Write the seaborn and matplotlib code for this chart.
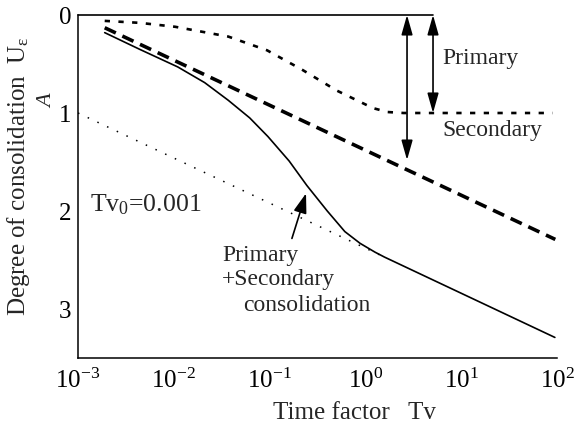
import matplotlib
matplotlib.use("Agg")
import matplotlib.pyplot as plt
import seaborn as sns
import numpy as np
import pandas as pd

# ---- data ----
tv_primary = [0.0019, 0.0044, 0.0103, 0.037, 0.094, 0.22, 0.50, 1.2, 1.7, 2.5, 90]
u_primary = [0.06, 0.08, 0.12, 0.22, 0.36, 0.56, 0.77, 0.95, 0.99, 1.0, 1.0]

tv_secondary = [0.0019, 96]
u_secondary = [0.13, 2.29]

tv_total = [0.0019, 0.0044, 0.011, 0.021, 0.037, 0.062, 0.096, 0.16, 0.245, 0.40, 0.61, 0.88, 1.26, 1.58, 95]
u_total = [0.18, 0.35, 0.53, 0.69, 0.87, 1.05, 1.24, 1.49, 1.74, 2.00, 2.21, 2.33, 2.42, 2.47, 3.29]

tv_extension = [0.001, 1.58]
u_extension = [1.0, 2.47]

x_ticks = [1e-3, 1e-2, 1e-1, 1e0, 1e1, 1e2]
y_ticks = [0, 1, 2, 3]
y_minor = [0.5, 1.5, 2.5]

arrow_total_tv, arrow_total_u = 2.72, 1.48
arrow_primary_tv, arrow_primary_u = 5.08, 1.0

sns.set_style("white")
plt.rcParams["font.family"] = ["Liberation Serif", "DejaVu Serif"]
plt.rcParams["mathtext.fontset"] = "custom"
plt.rcParams["mathtext.rm"] = "Liberation Serif"
plt.rcParams["mathtext.it"] = "Liberation Serif:italic"
plt.rcParams["mathtext.default"] = "regular"

fig = plt.figure(figsize=(5.78, 4.33), dpi=100)
ax = fig.add_axes([78 / 578, 1 - 358 / 433, 479 / 578, 343 / 433])

df_p = pd.DataFrame({"tv": tv_primary, "u": u_primary})
df_s = pd.DataFrame({"tv": tv_secondary, "u": u_secondary})
df_t = pd.DataFrame({"tv": tv_total, "u": u_total})
df_e = pd.DataFrame({"tv": tv_extension, "u": u_extension})

sns.lineplot(data=df_p, x="tv", y="u", ax=ax, color="black", lw=1.9,
             ls=(0, (2, 3.2)), estimator=None, sort=False)
sns.lineplot(data=df_s, x="tv", y="u", ax=ax, color="black", lw=2.6,
             ls=(0, (3.4, 2.0)), estimator=None, sort=False)
sns.lineplot(data=df_t, x="tv", y="u", ax=ax, color="black", lw=1.2,
             ls="-", estimator=None, sort=False)
sns.lineplot(data=df_e, x="tv", y="u", ax=ax, color="black", lw=1.1,
             ls=(0, (1, 6)), estimator=None, sort=False)

ax.set_xscale("log")
ax.set_xlim(1e-3, 1e2)
ax.set_ylim(3.5, 0)
ax.set_xticks(x_ticks)
ax.xaxis.set_minor_locator(matplotlib.ticker.NullLocator())
ax.set_yticks(y_ticks)
ax.set_yticks(y_minor, minor=True)
ax.set_yticklabels([str(v) for v in y_ticks])

for s in ["top", "right"]:
    ax.spines[s].set_visible(False)
for s in ["left", "bottom"]:
    ax.spines[s].set_linewidth(1.1)
    ax.spines[s].set_color("black")

ax.tick_params(axis="both", which="major", direction="in", length=7, width=1.0,
               labelsize=18, color="black", labelcolor="black")
ax.tick_params(axis="y", which="minor", direction="in", length=5, width=1.0)
ax.tick_params(axis="y", which="major", pad=5)
ax.tick_params(axis="x", which="major", pad=8)

# top reference line at U = 0
ax.plot([1e-3, arrow_primary_tv], [0, 0], color="black", lw=1.2, clip_on=False)

astyle = "<|-|>,head_length=0.6,head_width=0.17"
ax.annotate("", xy=(arrow_total_tv, arrow_total_u), xytext=(arrow_total_tv, 0),
            arrowprops=dict(arrowstyle=astyle, color="black", lw=1.2,
                            mutation_scale=20, shrinkA=0, shrinkB=0))
ax.annotate("", xy=(arrow_primary_tv, arrow_primary_u), xytext=(arrow_primary_tv, 0),
            arrowprops=dict(arrowstyle=astyle, color="black", lw=1.2,
                            mutation_scale=20, shrinkA=0, shrinkB=0))

ax.text(6.4, 0.44, "Primary", fontsize=17, ha="left", va="center")
ax.text(6.3, 1.18, "Secondary", fontsize=17, ha="left", va="center")
ax.text(1.33e-3, 1.94, r"Tv$_0$=0.001", fontsize=18.5, ha="left", va="center")
ax.text(0.0318, 2.45, "Primary", fontsize=17, ha="left", va="center")
ax.text(0.0318, 2.70, "+Secondary", fontsize=17, ha="left", va="center")
ax.text(0.0527, 2.96, "consolidation", fontsize=17, ha="left", va="center")

ax.annotate("", xy=(0.240, 1.82), xytext=(0.171, 2.28),
            arrowprops=dict(arrowstyle="-|>,head_length=0.6,head_width=0.2",
                            color="black", lw=1.2, mutation_scale=20,
                            shrinkA=0, shrinkB=0))

ax.set_xlabel("Time factor   Tv", fontsize=18)
ax.xaxis.set_label_coords(0.578, -0.128)
ax.set_ylabel(r"Degree of consolidation  U$_{\varepsilon}$", fontsize=18)
ax.yaxis.set_label_coords(-0.097, 0.53)

fig.text(48 / 578, 1 - 101 / 433, "A", rotation=90, fontsize=16, style="italic",
         ha="center", va="center")

fig.savefig("out.png", dpi=100)
